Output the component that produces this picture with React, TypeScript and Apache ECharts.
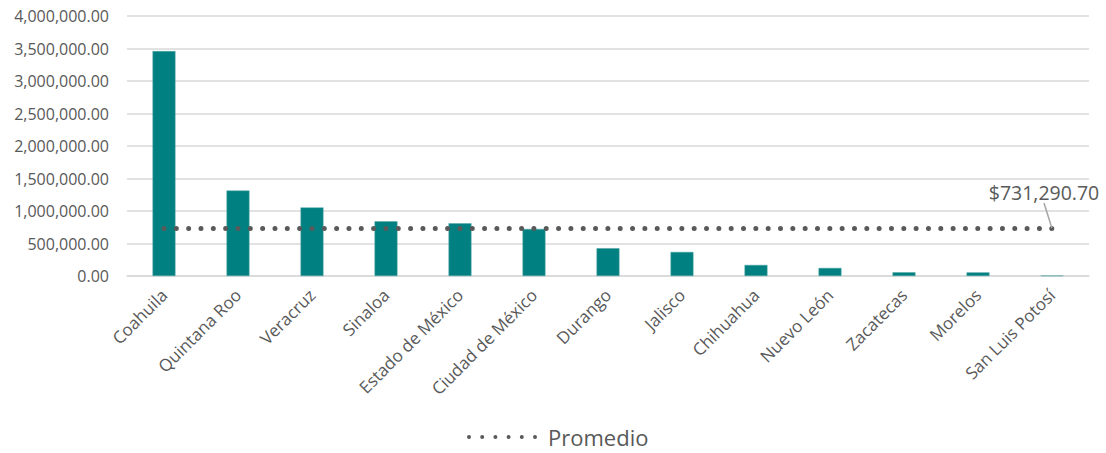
import React, { useEffect, useRef } from "react";
import * as echarts from "echarts";

const categories = [
  "Coahuila",
  "Quintana Roo",
  "Veracruz",
  "Sinaloa",
  "Estado de México",
  "Ciudad de México",
  "Durango",
  "Jalisco",
  "Chihuahua",
  "Nuevo León",
  "Zacatecas",
  "Morelos",
  "San Luis Potosí",
];

const values = [
  3460000, 1315000, 1055000, 842000, 812000, 725000, 428000, 370000, 170000,
  124000, 58000, 56000, 6000,
];

const averageValue = 731290.7;
const averageLabel = "$731,290.70";
const seriesName = "Promedio";

const yMin = 0;
const yMax = 4000000;
const yInterval = 500000;

const FONT = "'Open Sans', 'Noto Sans', sans-serif";
const TEXT = "#595959";

function dotsPath(n: number, gap: number, r: number) {
  let d = "";
  for (let i = 0; i < n; i++) {
    const cx = r + i * gap;
    d += `M${cx - r},${r}a${r},${r} 0 1,0 ${2 * r},0a${r},${r} 0 1,0 ${-2 * r},0Z`;
  }
  return "path://" + d;
}

export default function App() {
  const ref = useRef<HTMLDivElement>(null);

  useEffect(() => {
    document.body.style.margin = "0";
    if (!ref.current) return;
    const chart = echarts.init(ref.current, undefined, { renderer: "svg" });
    const last = categories.length - 1;
    const lineData = categories.map((_, i) =>
      i === last
        ? {
            value: averageValue,
            label: {
              show: true,
              position: "top",
              formatter: () => averageLabel,
              fontFamily: FONT,
              fontSize: 19.5,
              color: TEXT,
            },
          }
        : { value: averageValue }
    );

    chart.setOption({
      animation: false,
      textStyle: { fontFamily: FONT },
      grid: { left: 127, right: 17, top: 16, bottom: 177, containLabel: false },
      legend: {
        top: 425,
        left: 467,
        padding: 0,
        itemWidth: 70,
        itemHeight: 4,
        itemGap: 10,
        textStyle: {
          fontFamily: FONT,
          fontSize: 22,
          lineHeight: 24,
          color: TEXT,
          padding: [0, 0, 0, 6],
        },
        data: [
          {
            name: seriesName,
            icon: dotsPath(6, 13.2, 2),
            itemStyle: { color: TEXT, opacity: 1 },
          },
        ],
      },
      xAxis: {
        type: "category",
        data: categories,
        axisLine: { show: true, lineStyle: { color: "#d9d9d9", width: 1.5 } },
        axisTick: { show: false },
        axisLabel: {
          rotate: 45,
          interval: 0,
          margin: 16,
          fontFamily: FONT,
          fontSize: 17,
          color: TEXT,
        },
      },
      yAxis: {
        type: "value",
        min: yMin,
        max: yMax,
        interval: yInterval,
        axisLine: { show: false },
        axisTick: { show: false },
        splitLine: { lineStyle: { color: "#d9d9d9", width: 1.5 } },
        axisLabel: {
          margin: 18,
          fontFamily: FONT,
          fontSize: 16,
          color: TEXT,
          formatter: (v: number) =>
            v.toLocaleString("en-US", {
              minimumFractionDigits: 2,
              maximumFractionDigits: 2,
            }),
        },
      },
      series: [
        {
          type: "bar",
          name: "Valor",
          data: values,
          barWidth: "31%",
          itemStyle: { color: "#008080", borderColor: "#5aa9a9", borderWidth: 0.5 },
        },
        {
          type: "line",
          name: seriesName,
          data: lineData,
          symbol: "circle",
          symbolSize: 1,
          showSymbol: true,
          showAllSymbol: true,
          z: 5,
          lineStyle: {
            color: TEXT,
            width: 5,
            type: [0, 12.33],
            cap: "round",
          },
          itemStyle: { color: "rgba(0,0,0,0)" },
          labelLayout: { dx: -8, dy: -20 },
          labelLine: { show: true, lineStyle: { color: "#a6a6a6", width: 1.5 } },
        },
      ],
    });

    return () => chart.dispose();
  }, []);

  return <div ref={ref} style={{ width: 1106, height: 453 }} />;
}
